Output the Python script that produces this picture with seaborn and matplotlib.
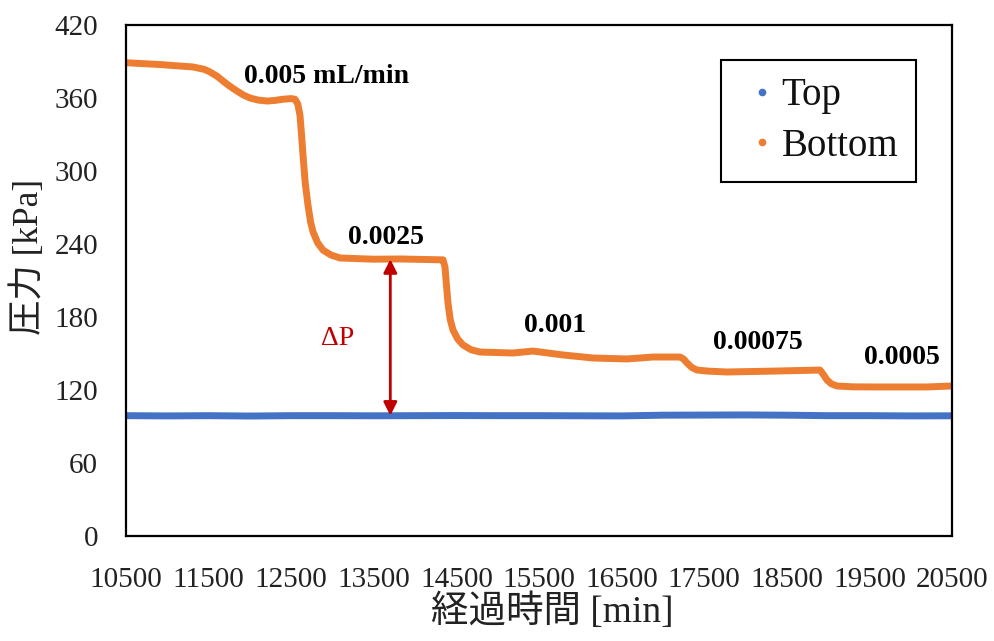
import matplotlib
matplotlib.use("Agg")
import matplotlib.pyplot as plt
from matplotlib.lines import Line2D
import pandas as pd
import seaborn as sns

# Elapsed time [min] and pressure [kPa] at the bottom of the column
bottom_time = [10500, 10912, 11311, 11450, 11517, 11600, 11674, 11760, 11844, 11920,
               12001, 12100, 12207, 12300, 12401, 12500, 12546, 12580, 12606, 12625,
               12643, 12670, 12703, 12735, 12764, 12820, 12885, 12980, 13091, 13500,
               13817, 14100, 14301, 14338, 14362, 14380, 14398, 14425, 14459, 14515,
               14580, 14680, 14786, 15185, 15427, 15790, 16154, 16565, 16880, 17207,
               17250, 17292, 17350, 17413, 17550, 17776, 18381, 18902, 18940, 18987,
               19040, 19108, 19300, 19592, 20197, 20500]
bottom_kpa = [389.0, 387.5, 385.5, 383.5, 381.4, 378.0, 374.0, 369.5, 365.7, 362.5,
              360.0, 358.3, 357.5, 358.0, 359.0, 359.5, 359.0, 355.0, 346.0, 330.0,
              313.0, 290.0, 272.0, 258.0, 250.0, 241.0, 235.0, 231.0, 228.5, 227.5,
              227.7, 227.3, 227.0, 227.0, 221.0, 206.0, 191.5, 178.0, 169.3, 162.0,
              157.0, 153.0, 151.2, 150.4, 152.0, 148.8, 146.3, 145.5, 147.1, 147.1,
              145.5, 142.2, 138.5, 136.4, 135.5, 134.8, 135.6, 136.4, 133.0, 128.2,
              125.0, 123.3, 122.6, 122.5, 122.5, 123.3]

# Pressure at the top of the column
top_time = [10500, 11000, 11500, 12000, 12500, 13000, 13500, 14000, 14500, 15000,
            15500, 16000, 16500, 17000, 17500, 18000, 18500, 19000, 19500, 20000, 20500]
top_kpa = [98.9, 98.7, 98.9, 98.6, 98.9, 98.9, 98.8, 98.9, 99.0, 98.9,
           98.9, 98.8, 98.7, 99.3, 99.4, 99.5, 99.3, 98.9, 98.9, 98.7, 98.8]

# Flow-rate annotations: (label, time, pressure)
rate_labels = ["0.005 mL/min", "0.0025", "0.001", "0.00075", "0.0005"]
rate_x = [12933, 13648, 15694, 18151, 19895]
rate_y = [378, 245.7, 173.3, 159.3, 146.9]

# Pressure difference arrow
dp_time = 13700
dp_low = 98.9
dp_high = 227.5

x_ticks = list(range(10500, 20501, 1000))
y_ticks = list(range(0, 421, 60))

TOP_C = "#4472C4"
BOT_C = "#ED7D31"
DP_C = "#C00000"

sns.set_theme(style="white")
plt.rcParams["font.family"] = ["Liberation Serif", "Noto Sans CJK JP"]

df_top = pd.DataFrame({"time": top_time, "kpa": top_kpa})
df_bot = pd.DataFrame({"time": bottom_time, "kpa": bottom_kpa})

fig = plt.figure(figsize=(9.95, 6.41), dpi=100)
ax = fig.add_axes([126 / 995, 1 - 536 / 641, (952 - 126) / 995, (536 - 25) / 641])

sns.lineplot(data=df_top, x="time", y="kpa", ax=ax, color=TOP_C, linewidth=5,
             solid_capstyle="round", solid_joinstyle="round")
sns.lineplot(data=df_bot, x="time", y="kpa", ax=ax, color=BOT_C, linewidth=5,
             solid_capstyle="round", solid_joinstyle="round")

ax.set_xlim(10500, 20500)
ax.set_ylim(0, 420)
ax.set_xticks(x_ticks)
ax.set_yticks(y_ticks)
ax.tick_params(axis="both", direction="in", length=8, width=1.3, color="black",
               labelsize=21, labelcolor="#222222")
ax.tick_params(axis="x", pad=22)
ax.tick_params(axis="y", pad=20)
for s in ax.spines.values():
    s.set_visible(True)
    s.set_color("black")
    s.set_linewidth(1.6)

ax.set_xlabel("経過時間 [min]", fontsize=27, color="#222222")
ax.set_ylabel("圧力 [kPa]", fontsize=25.5, color="#222222")
ax.xaxis.set_label_coords(0.516, -0.113)
ax.yaxis.set_label_coords(-0.097, 0.546)

for lab, xx, yy in zip(rate_labels, rate_x, rate_y):
    ax.text(xx, yy, lab, fontsize=20, fontweight="bold", ha="center", va="center",
            color="black")

ax.annotate("", xy=(dp_time, dp_low), xytext=(dp_time, dp_high),
            arrowprops=dict(arrowstyle="<|-|>", color=DP_C, lw=2,
                            mutation_scale=20, shrinkA=0, shrinkB=0))
ax.text(13067, 162, "ΔP", fontsize=20, color=DP_C, ha="center", va="center")

handles = [Line2D([], [], linestyle="none", marker="o", markersize=4.5, color=TOP_C),
           Line2D([], [], linestyle="none", marker="o", markersize=4.5, color=BOT_C)]
leg = ax.legend(handles, ["Top", "Bottom"], loc="upper right",
                bbox_to_anchor=(0.956, 0.932), borderaxespad=0, fontsize=28,
                frameon=True, fancybox=False, edgecolor="black", framealpha=1,
                handletextpad=-0.1, borderpad=0.45, labelspacing=0.35,
                handlelength=1.2)
for t in leg.get_texts():
    t.set_color("#111111")
leg.get_frame().set_linewidth(1.5)

fig.savefig("out.png", dpi=100, facecolor="white")
